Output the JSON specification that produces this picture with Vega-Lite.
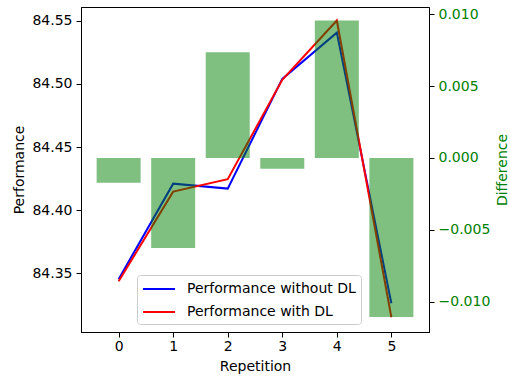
{
  "$schema": "https://vega.github.io/schema/vega-lite/v6.json",
  "width": 348,
  "height": 325,
  "autosize": {"type": "none"},
  "padding": {"left": 81, "top": 7, "right": 81, "bottom": 44},
  "background": "#ffffff",
  "config": {
    "font": "DejaVu Sans",
    "view": {"stroke": "#000000", "strokeWidth": 1},
    "axis": {
      "grid": false,
      "labelFont": "DejaVu Sans",
      "titleFont": "DejaVu Sans",
      "labelFontSize": 14,
      "titleFontSize": 14,
      "titleFontWeight": "normal",
      "labelColor": "#000000",
      "titleColor": "#000000",
      "tickColor": "#000000",
      "domainColor": "#000000",
      "tickSize": 5,
      "labelPadding": 4
    },
    "legend": {
      "orient": "none",
      "legendX": 56,
      "legendY": 268,
      "symbolType": "M-1,0H3",
      "symbolSize": 256,
      "symbolStrokeWidth": 2,
      "labelFont": "DejaVu Sans",
      "labelFontSize": 14,
      "labelColor": "#000000",
      "labelLimit": 0,
      "strokeColor": "#cccccc",
      "fillColor": "rgba(255,255,255,0.8)",
      "padding": 5,
      "cornerRadius": 3,
      "rowPadding": 7,
      "labelOffset": 27
    }
  },
  "datasets": {
    "perf": [
      {"Repetition": 0, "Series": "Performance without DL", "Performance": 84.3454},
      {"Repetition": 1, "Series": "Performance without DL", "Performance": 84.4210},
      {"Repetition": 2, "Series": "Performance without DL", "Performance": 84.4171},
      {"Repetition": 3, "Series": "Performance without DL", "Performance": 84.5039},
      {"Repetition": 4, "Series": "Performance without DL", "Performance": 84.5405},
      {"Repetition": 5, "Series": "Performance without DL", "Performance": 84.3264},
      {"Repetition": 0, "Series": "Performance with DL", "Performance": 84.3437},
      {"Repetition": 1, "Series": "Performance with DL", "Performance": 84.4147},
      {"Repetition": 2, "Series": "Performance with DL", "Performance": 84.4245},
      {"Repetition": 3, "Series": "Performance with DL", "Performance": 84.5032},
      {"Repetition": 4, "Series": "Performance with DL", "Performance": 84.5501},
      {"Repetition": 5, "Series": "Performance with DL", "Performance": 84.3153}
    ],
    "diff": [
      {"Repetition": 0, "Difference": -0.00172},
      {"Repetition": 1, "Difference": -0.00627},
      {"Repetition": 2, "Difference": 0.00736},
      {"Repetition": 3, "Difference": -0.00075},
      {"Repetition": 4, "Difference": 0.00956},
      {"Repetition": 5, "Difference": -0.01107}
    ]
  },
  "layer": [
    {
      "data": {"name": "perf"},
      "mark": {"type": "line", "strokeWidth": 2},
      "encoding": {
        "x": {
          "field": "Repetition",
          "type": "quantitative",
          "scale": {"domain": [-0.69, 5.69], "nice": false, "zero": false, "padding": 0},
          "axis": {"values": [0, 1, 2, 3, 4, 5], "format": "d", "title": "Repetition", "labelPadding": 2, "titlePadding": 6}
        },
        "y": {
          "field": "Performance",
          "type": "quantitative",
          "scale": {"domain": [84.3036, 84.5608], "nice": false, "zero": false},
          "axis": {"values": [84.35, 84.4, 84.45, 84.5, 84.55], "format": ".2f", "title": "Performance", "titlePadding": 5}
        },
        "color": {
          "field": "Series",
          "type": "nominal",
          "scale": {"domain": ["Performance without DL", "Performance with DL"], "range": ["#0000ff", "#ff0000"]},
          "legend": {"title": null}
        }
      }
    },
    {
      "data": {"name": "diff"},
      "mark": {"type": "bar", "size": 44, "color": "#008000", "opacity": 0.5},
      "encoding": {
        "x": {"field": "Repetition", "type": "quantitative"},
        "y": {
          "field": "Difference",
          "type": "quantitative",
          "scale": {"domain": [-0.01211, 0.0105], "nice": false},
          "axis": {
            "orient": "right",
            "values": [-0.01, -0.005, 0, 0.005, 0.01],
            "format": ".3f",
            "title": "Difference",
            "titleAngle": 270,
            "titlePadding": 20,
            "labelColor": "#008000",
            "titleColor": "#008000"
          }
        }
      }
    }
  ],
  "resolve": {"scale": {"y": "independent"}}
}
